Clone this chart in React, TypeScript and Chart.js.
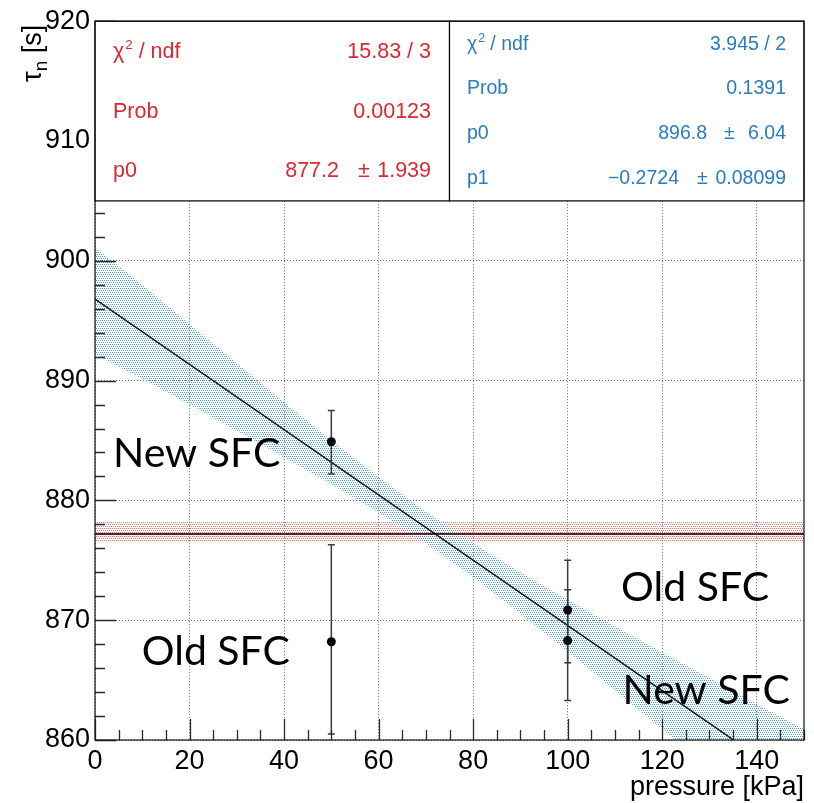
import React, { useEffect, useRef } from 'react';
import { Chart, registerables } from 'chart.js';

Chart.register(...registerables);

const FONT = '"Liberation Sans", Arial, Helvetica, sans-serif';
const LABEL_FONT = 'Lato, "Open Sans", sans-serif';
const RED = 'rgb(218,40,48)';
const BLUE = 'rgb(42,125,190)';

// ---- measurements (pressure [kPa], lifetime [s]) ----
const pressure = [50, 50, 100, 100];
const lifetime = [884.9, 868.2, 870.85, 868.3];
const lifetimeLow = [882.2, 860.5, 866.45, 863.3];
const lifetimeHigh = [887.5, 876.3, 875.0, 872.55];

// ---- constant fit ----
const constP0 = 877.2;
const constX = [0, 150];
const constBandLow = [876.5, 876.5];
const constBandHigh = [878.2, 878.2];

// ---- linear fit ----
const linP0 = 896.8;
const linP1 = -0.2724;
const lineX = [0, 150];
const bandX = [0, 10, 20, 30, 40, 50, 60, 70, 80, 90, 100, 110, 120, 130, 140, 150];
const bandLow = [892.2, 890.15, 888.0, 885.8, 883.6, 881.35, 879.0, 876.4, 873.6, 870.55, 867.4, 864.15, 860.9, 857.6, 854.3, 851.0];
const bandHigh = [901.1, 898.0, 894.7, 891.45, 888.2, 885.0, 881.95, 879.05, 876.4, 874.0, 871.7, 869.5, 867.3, 865.2, 863.0, 860.9];

// ---- axes ----
const xTicks = [0, 20, 40, 60, 80, 100, 120, 140];
const yTicks = [860, 870, 880, 890, 900, 910, 920];
const xTitle = 'pressure [kPa]';

// ---- stat boxes ----
const leftStatLabels = ['χ² / ndf', 'Prob', 'p0'];
const leftStatValues = ['15.83 / 3', '0.00123', '877.2'];
const leftStatErrors = ['', '', '1.939'];
const rightStatLabels = ['χ² / ndf', 'Prob', 'p0', 'p1'];
const rightStatValues = ['3.945 / 2', '0.1391', '896.8', '−0.2724'];
const rightStatErrors = ['', '', '6.04', '0.08099'];

// ---- annotations ----
const annotationTexts = ['New SFC', 'Old SFC', 'Old SFC', 'New SFC'];

function makePattern(color: string) {
  const c = document.createElement('canvas');
  c.width = 4;
  c.height = 4;
  const g = c.getContext('2d')!;
  g.fillStyle = color;
  g.fillRect(0, 0, 1, 1);
  g.fillRect(2, 0, 1, 1);
  g.fillRect(1, 2, 1, 1);
  g.fillRect(3, 2, 1, 1);
  return g.createPattern(c, 'repeat')!;
}

function drawLabel(ctx: CanvasRenderingContext2D, text: string, x: number, y: number, size: number) {
  ctx.textAlign = 'left';
  if (text.startsWith('χ²')) {
    ctx.font = `${size}px ${FONT}`;
    ctx.fillText('χ', x, y);
    let w = ctx.measureText('χ').width + 1;
    ctx.font = `${size * 0.62}px ${FONT}`;
    ctx.fillText('2', x + w, y - size * 0.4);
    w += ctx.measureText('2').width;
    ctx.font = `${size}px ${FONT}`;
    ctx.fillText(text.slice(2), x + w, y);
  } else {
    ctx.font = `${size}px ${FONT}`;
    ctx.fillText(text, x, y);
  }
}

const rootPlugin = {
  id: 'rootStyle',
  beforeDatasetDraw(chart: any, args: any) {
    const ds = chart.data.datasets[args.index];
    if (ds.label !== 'data') return;
    const { ctx } = chart;
    const xs = chart.scales.x;
    const ys = chart.scales.y;
    ctx.save();
    ctx.strokeStyle = '#3a3a3a';
    ctx.lineWidth = 1.5;
    for (let i = 0; i < pressure.length; i++) {
      const px = xs.getPixelForValue(pressure[i]);
      const lo = ys.getPixelForValue(lifetimeLow[i]);
      const hi = ys.getPixelForValue(lifetimeHigh[i]);
      ctx.beginPath();
      ctx.moveTo(px, lo);
      ctx.lineTo(px, hi);
      ctx.moveTo(px - 3.5, lo);
      ctx.lineTo(px + 3.5, lo);
      ctx.moveTo(px - 3.5, hi);
      ctx.lineTo(px + 3.5, hi);
      ctx.stroke();
    }
    ctx.restore();
  },
  afterDatasetsDraw(chart: any, _args: any, opts: any) {
    const { ctx, chartArea: a } = chart;
    const xs = chart.scales.x;
    const ys = chart.scales.y;
    ctx.save();

    // annotations
    ctx.fillStyle = '#000';
    ctx.font = `41px ${LABEL_FONT}`;
    ctx.textAlign = 'left';
    ctx.textBaseline = 'alphabetic';
    annotationTexts.forEach((t, i) => {
      const p = opts.annotationPos[i];
      ctx.fillText(t, xs.getPixelForValue(p[0]), ys.getPixelForValue(p[1]));
    });

    // inward ticks
    ctx.strokeStyle = '#2a2a2a';
    ctx.lineWidth = 1.3;
    ctx.beginPath();
    for (let v = 860; v <= 920; v += 2) {
      const py = Math.round(ys.getPixelForValue(v)) + 0.5;
      const len = v % 10 === 0 ? 21 : 10;
      ctx.moveTo(a.left, py);
      ctx.lineTo(a.left + len, py);
    }
    for (let v = 0; v <= 150; v += 5) {
      const px = Math.round(xs.getPixelForValue(v)) + 0.5;
      const len = v % 20 === 0 ? 21 : 10;
      ctx.moveTo(px, a.bottom);
      ctx.lineTo(px, a.bottom - len);
    }
    ctx.stroke();

    // stat boxes
    const W = a.right - a.left;
    const H = a.bottom - a.top;
    opts.boxes.forEach((b: any) => {
      const L = a.left + b.x0 * W;
      const R = a.left + b.x1 * W;
      const T = a.top + b.y0 * H;
      const B = a.top + b.y1 * H;
      ctx.fillStyle = '#fff';
      ctx.fillRect(L, T, R - L, B - T);
      ctx.strokeStyle = '#000';
      ctx.lineWidth = 1.2;
      ctx.strokeRect(L, T, R - L, B - T);
      const n = b.labels.length;
      const rowH = (B - T) / n;
      ctx.fillStyle = b.color;
      ctx.textBaseline = 'alphabetic';
      for (let i = 0; i < n; i++) {
        const y = T + rowH * (i + 0.5) + b.size * 0.3;
        drawLabel(ctx, b.labels[i], L + b.labelInset, y, b.size);
        ctx.font = `${b.size}px ${FONT}`;
        if (b.errors[i]) {
          ctx.textAlign = 'right';
          ctx.fillText(b.values[i], R - b.valueRight[i], y);
          ctx.textAlign = 'left';
          ctx.fillText('±', R - b.pmLeft[i], y);
          ctx.textAlign = 'right';
          ctx.fillText(b.errors[i], R - b.valueInset, y);
        } else {
          ctx.textAlign = 'right';
          ctx.fillText(b.values[i], R - b.valueInset, y);
        }
      }
    });

    // frame
    ctx.strokeStyle = '#111';
    ctx.lineWidth = 1.2;
    ctx.strokeRect(a.left, a.top, a.right - a.left, a.bottom - a.top);

    // axis titles
    ctx.fillStyle = '#000';
    ctx.font = `27px ${FONT}`;
    ctx.textAlign = 'right';
    ctx.textBaseline = 'alphabetic';
    ctx.fillText(xTitle, a.right, chart.height - 8);

    ctx.translate(41, 82);
    ctx.rotate(-Math.PI / 2);
    ctx.textAlign = 'left';
    ctx.font = `27px ${FONT}`;
    ctx.fillText('τ', 0, 0);
    let w = ctx.measureText('τ').width;
    ctx.font = `19px ${FONT}`;
    ctx.fillText('n', w, 6);
    w += ctx.measureText('n').width;
    ctx.font = `27px ${FONT}`;
    ctx.fillText(' [s]', w, 0);
    ctx.restore();
  },
};

export default function App() {
  const ref = useRef<HTMLCanvasElement>(null);
  useEffect(() => {
    document.body.style.margin = '0';
    const canvas = ref.current!;
    const bluePat = makePattern('rgba(45,140,210,0.85)');
    const redPat = makePattern('rgba(235,60,60,0.75)');
    const chart = new Chart(canvas, {
      type: 'line',
      data: {
        datasets: [
          {
            label: 'data',
            type: 'scatter',
            data: pressure.map((x, i) => ({ x, y: lifetime[i] })),
            pointRadius: 4.5,
            pointBackgroundColor: '#000',
            pointBorderWidth: 0,
            showLine: false,
            order: 0,
          } as any,
          {
            label: 'linear fit',
            data: lineX.map((x) => ({ x, y: linP0 + linP1 * x })),
            borderColor: '#151515',
            borderWidth: 1.5,
            pointRadius: 0,
            fill: false,
            order: 1,
          },
          {
            label: 'constant fit',
            data: constX.map((x) => ({ x, y: constP0 })),
            borderColor: '#5a2222',
            borderWidth: 2,
            pointRadius: 0,
            fill: false,
            order: 2,
          },
          {
            label: 'blue band high',
            data: bandX.map((x, i) => ({ x, y: bandHigh[i] })),
            borderWidth: 0,
            borderColor: 'rgba(0,0,0,0)',
            pointRadius: 0,
            backgroundColor: bluePat,
            fill: '+1',
            order: 3,
          },
          {
            label: 'blue band low',
            data: bandX.map((x, i) => ({ x, y: bandLow[i] })),
            borderWidth: 0,
            borderColor: 'rgba(0,0,0,0)',
            pointRadius: 0,
            fill: false,
            order: 4,
          },
          {
            label: 'red band high',
            data: constX.map((x, i) => ({ x, y: constBandHigh[i] })),
            borderWidth: 0,
            borderColor: 'rgba(0,0,0,0)',
            pointRadius: 0,
            backgroundColor: redPat,
            fill: '+1',
            order: 5,
          },
          {
            label: 'red band low',
            data: constX.map((x, i) => ({ x, y: constBandLow[i] })),
            borderWidth: 0,
            borderColor: 'rgba(0,0,0,0)',
            pointRadius: 0,
            fill: false,
            order: 6,
          },
        ],
      },
      options: {
        animation: false,
        responsive: false,
        maintainAspectRatio: false,
        layout: { padding: { top: 20, right: 10, left: 0, bottom: 0 } },
        plugins: {
          legend: { display: false },
          tooltip: { enabled: false },
          title: { display: false },
          rootStyle: {
            annotationPos: [
              [3.8, 882.75],
              [9.9, 866.25],
              [111.3, 871.6],
              [111.6, 863.0],
            ],
            boxes: [
              {
                x0: 0, x1: 0.5, y0: 0, y1: 0.25, color: RED, size: 21.5,
                labels: leftStatLabels, values: leftStatValues, errors: leftStatErrors,
                labelInset: 18, valueInset: 18.5,
                valueRight: [0, 0, 110.5], pmLeft: [0, 0, 91.5],
              },
              {
                x0: 0.5, x1: 1, y0: 0, y1: 0.25, color: BLUE, size: 19.5,
                labels: rightStatLabels, values: rightStatValues, errors: rightStatErrors,
                labelInset: 17.5, valueInset: 18,
                valueRight: [0, 0, 97, 125], pmLeft: [0, 0, 80, 107],
              },
            ],
          },
        } as any,
        scales: {
          x: {
            type: 'linear',
            min: 0,
            max: 150,
            afterBuildTicks: (s: any) => {
              s.ticks = xTicks.map((v) => ({ value: v }));
            },
            afterFit: (s: any) => {
              s.height = 63;
            },
            ticks: {
              font: { family: FONT, size: 27 },
              color: '#000',
              padding: 5,
              maxRotation: 0,
              autoSkip: false,
            },
            grid: { drawTicks: false, color: '#6a6a6a', lineWidth: 1 },
            border: { display: false, dash: [1, 2] },
          },
          y: {
            type: 'linear',
            min: 860,
            max: 920,
            afterBuildTicks: (s: any) => {
              s.ticks = yTicks.map((v) => ({ value: v }));
            },
            afterFit: (s: any) => {
              s.width = 95;
            },
            ticks: {
              font: { family: FONT, size: 27 },
              color: '#000',
              padding: 5,
              autoSkip: false,
            },
            grid: { drawTicks: false, color: '#6a6a6a', lineWidth: 1 },
            border: { display: false, dash: [1, 2] },
          },
        },
      },
      plugins: [rootPlugin],
    } as any);
    return () => chart.destroy();
  }, []);
  return <canvas ref={ref} width={814} height={803} style={{ display: 'block' }} />;
}
